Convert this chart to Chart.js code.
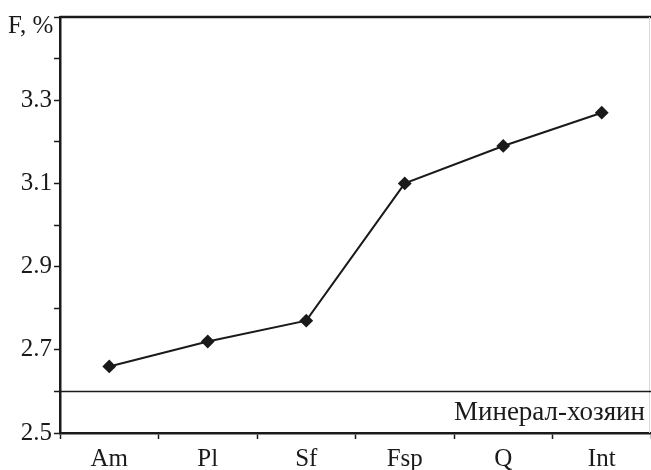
<!DOCTYPE html>
<html>
<head>
<meta charset="utf-8">
<script src="https://cdn.jsdelivr.net/npm/chart.js@4/dist/chart.umd.min.js"></script>
<style>
  html, body { margin: 0; padding: 0; background: #fff; }
  #wrap { width: 651px; height: 470px; position: relative; }
</style>
</head>
<body>
<div id="wrap"><canvas id="chart"></canvas></div>
<script>
// categories and values
const minerals = ["Am", "Pl", "Sf", "Fsp", "Q", "Int"];
const fluorine = [2.66, 2.72, 2.77, 3.10, 3.19, 3.27];
const yTickLabels = ["2.5", "2.7", "2.9", "3.1", "3.3"];
const hostLineValue = 2.6;
const hostLabel = "Минерал-хозяин";
const yTitle = "F, %";

const ink = "#1a1a1a";
const fontFamily = "'Liberation Serif', 'Times New Roman', serif";

// extra drawing: top border, host-mineral line and its caption, axis title
const extras = {
    id: "extras",
    afterDraw(chart) {
        let ctx = chart.ctx;
        let area = chart.chartArea;
        let y = chart.scales.y;
        ctx.save();
        // top frame line
        ctx.strokeStyle = ink;
        ctx.lineWidth = 2.5;
        ctx.beginPath();
        ctx.moveTo(area.left, area.top);
        ctx.lineTo(area.right, area.top);
        ctx.stroke();
        // faint right edge
        ctx.strokeStyle = "#d8d8d8";
        ctx.lineWidth = 1;
        ctx.beginPath();
        ctx.moveTo(area.right - 1.5, area.top);
        ctx.lineTo(area.right - 1.5, area.bottom);
        ctx.stroke();
        // host mineral line
        let hy = y.getPixelForValue(hostLineValue);
        ctx.strokeStyle = ink;
        ctx.lineWidth = 1.5;
        ctx.beginPath();
        ctx.moveTo(area.left, hy);
        ctx.lineTo(area.right, hy);
        ctx.stroke();
        ctx.fillStyle = ink;
        ctx.font = "27px " + fontFamily;
        ctx.textAlign = "right";
        ctx.textBaseline = "alphabetic";
        ctx.fillText(hostLabel, area.right - 6, hy + 29);
        // axis title
        ctx.font = "25px " + fontFamily;
        ctx.textAlign = "left";
        ctx.fillText(yTitle, 8, 33);
        ctx.restore();
    }
};

new Chart(document.getElementById("chart"), {
    type: "line",
    data: {
        labels: minerals,
        datasets: [{
            data: fluorine,
            borderColor: ink,
            borderWidth: 2,
            backgroundColor: ink,
            pointStyle: "rectRot",
            pointRadius: 5.5,
            pointHoverRadius: 5.5,
            tension: 0,
        }]
    },
    options: {
        animation: false,
        responsive: true,
        maintainAspectRatio: false,
        layout: {
            autoPadding: false,
            padding: { top: 17, right: 0, left: 0, bottom: 0 }
        },
        plugins: { legend: { display: false }, tooltip: { enabled: false } },
        scales: {
            x: {
                offset: true,
                grid: {
                    offset: true,
                    drawOnChartArea: false,
                    drawTicks: true,
                    tickLength: 6,
                    tickWidth: 1.5,
                    tickColor: ink,
                },
                border: { color: ink, width: 2.5 },
                ticks: {
                    color: ink,
                    padding: 5,
                    maxRotation: 0,
                    font: { family: fontFamily, size: 25 },
                },
                afterFit(scale) {
                    scale.height = 37;
                    scale.paddingLeft = 0;
                    scale.paddingRight = 0;
                }
            },
            y: {
                min: 2.5,
                max: 3.5,
                grid: {
                    drawOnChartArea: false,
                    drawTicks: true,
                    tickLength: 6,
                    tickWidth: 1.5,
                    tickColor: ink,
                },
                border: { color: ink, width: 2.5 },
                ticks: {
                    stepSize: 0.1,
                    color: ink,
                    padding: 2,
                    font: { family: fontFamily, size: 25 },
                    callback: function(value) {
                        let s = value.toFixed(1);
                        return yTickLabels.includes(s) ? s : "";
                    }
                },
                afterFit(scale) {
                    scale.width = 60;
                    scale.paddingTop = 0;
                    scale.paddingBottom = 0;
                }
            }
        }
    },
    plugins: [extras]
});
</script>
</body>
</html>
